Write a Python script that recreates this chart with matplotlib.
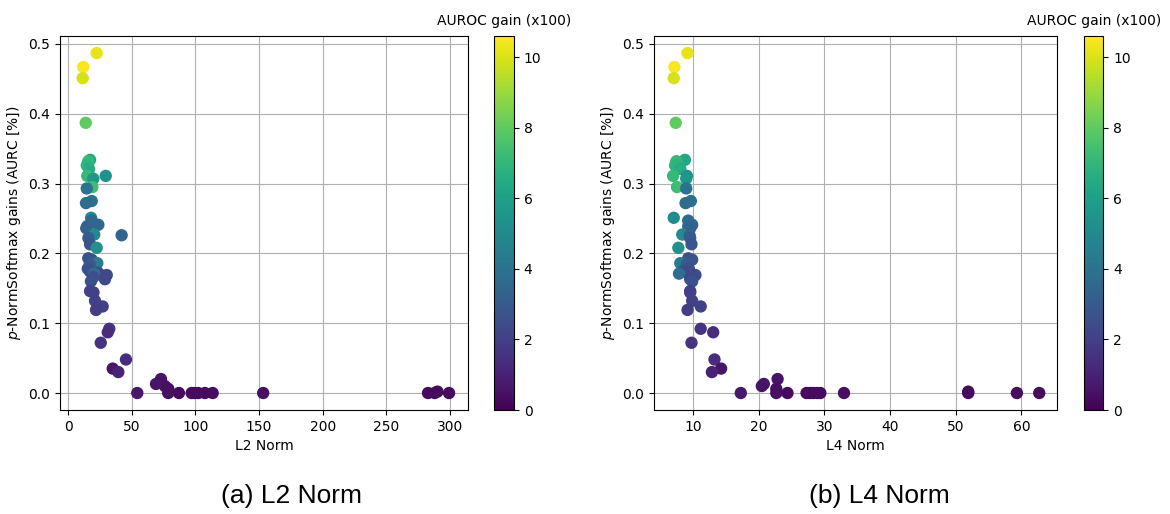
import numpy as np
import matplotlib.pyplot as plt

# AURC gain of p-NormSoftmax, AUROC gain (x100) and logit norms per model
aurc_gain = [0.487, 0.467, 0.451, 0.387, 0.334, 0.332, 0.326, 0.321, 0.311, 0.311,
             0.307, 0.295, 0.293, 0.275, 0.272, 0.251, 0.247, 0.241, 0.239, 0.236,
             0.227, 0.226, 0.222, 0.213, 0.208, 0.193, 0.191, 0.186, 0.184, 0.178,
             0.174, 0.172, 0.171, 0.169, 0.166, 0.163, 0.160, 0.146, 0.144, 0.132,
             0.124, 0.119, 0.092, 0.087, 0.072, 0.048, 0.035, 0.030, 0.020, 0.013,
             0.010, 0.006, 0.002, 0.0, 0.0, 0.0, 0.0, 0.0, 0.0, 0.0,
             0.0, 0.0, 0.0, 0.0, 0.0]
auroc_gain = [10.2, 10.5, 9.9, 8.0, 6.3, 7.1, 6.9, 6.6, 7.1, 5.4,
              5.6, 7.3, 4.0, 3.9, 3.7, 5.1, 3.6, 3.5, 3.6, 3.3,
              5.0, 3.4, 3.0, 2.8, 5.3, 2.7, 2.8, 4.4, 2.9, 2.6,
              2.5, 2.4, 3.8, 2.4, 2.5, 2.3, 2.6, 2.1, 2.0, 2.0,
              2.0, 1.9, 1.6, 1.4, 1.6, 1.4, 0.6, 1.0, 0.5, 0.6,
              0.5, 0.4, 0.3, 0.7, 0.4, 0.3, 0.3, 0.3, 0.3, 0.3,
              0.3, 0.4, 0.3, 0.3, 0.3]
l2_norm = [22.5, 12.0, 11.5, 13.9, 17.3, 15.9, 14.7, 16.5, 15.1, 29.6,
           19.9, 19.1, 14.7, 18.6, 14.1, 18.1, 18.6, 23.8, 15.1, 14.3,
           20.6, 42.1, 16.0, 17.3, 22.5, 15.9, 18.6, 23.0, 17.0, 15.5,
           17.3, 23.8, 20.5, 30.4, 19.9, 29.0, 18.0, 17.3, 20.0, 21.2,
           27.2, 22.0, 32.4, 31.2, 25.7, 45.5, 35.1, 39.5, 73.0, 69.1,
           76.1, 78.7, 290.2, 54.4, 78.7, 87.1, 97.1, 99.5, 102.3, 107.5,
           113.6, 153.3, 282.8, 299.3, 288.0]
l4_norm = [9.2, 7.2, 7.1, 7.4, 8.8, 7.5, 7.3, 8.1, 7.0, 9.1,
           9.0, 7.6, 9.0, 9.7, 8.9, 7.1, 9.3, 9.9, 9.3, 9.6,
           8.4, 9.5, 9.6, 9.8, 7.8, 9.3, 9.9, 8.1, 9.1, 9.4,
           8.4, 9.4, 7.9, 10.4, 9.6, 9.6, 9.9, 9.6, 9.6, 9.9,
           11.2, 9.2, 11.2, 13.1, 9.8, 13.3, 14.3, 12.9, 22.9, 20.8,
           20.5, 22.7, 51.9, 17.3, 22.7, 24.4, 27.3, 27.8, 28.3, 28.9,
           29.4, 33.0, 59.3, 62.7, 51.9]

panels = [
    (l2_norm, (-6.3, 314.2), 'L2 Norm', '(a) L2 Norm',
     [0.0513, 0.2023, 0.3487, 0.7276], [0.4222, 0.2023, 0.0171, 0.7276], 0.249),
    (l4_norm, (4.1, 65.4), 'L4 Norm', '(b) L4 Norm',
     [0.5590, 0.2023, 0.3444, 0.7276], [0.9265, 0.2023, 0.0165, 0.7276], 0.752),
]

fig = plt.figure(figsize=(11.7, 5.14), dpi=100)

for norm, xlim, xlabel, caption, ax_pos, cb_pos, cap_x in panels:
    ax = fig.add_axes(ax_pos)
    cax = fig.add_axes(cb_pos)
    sc = ax.scatter(norm, aurc_gain, c=auroc_gain, cmap='viridis', vmin=0, vmax=10.6, s=62, zorder=3)
    ax.set_xlim(*xlim)
    ax.set_xlabel(xlabel)
    ax.set_ylabel('$p$-NormSoftmax gains (AURC [%])')
    ax.set_yticks([0.0, 0.1, 0.2, 0.3, 0.4, 0.5])
    ax.grid(True)
    cb = fig.colorbar(sc, cax=cax)
    cb.set_ticks([0, 2, 4, 6, 8, 10])
    cax.set_title('AUROC gain (x100)', fontsize=10, pad=8)
    fig.text(cap_x, 0.035, caption, ha='center', va='center', fontsize=19, family='Liberation Sans')

fig.savefig('out.png', dpi=100)
